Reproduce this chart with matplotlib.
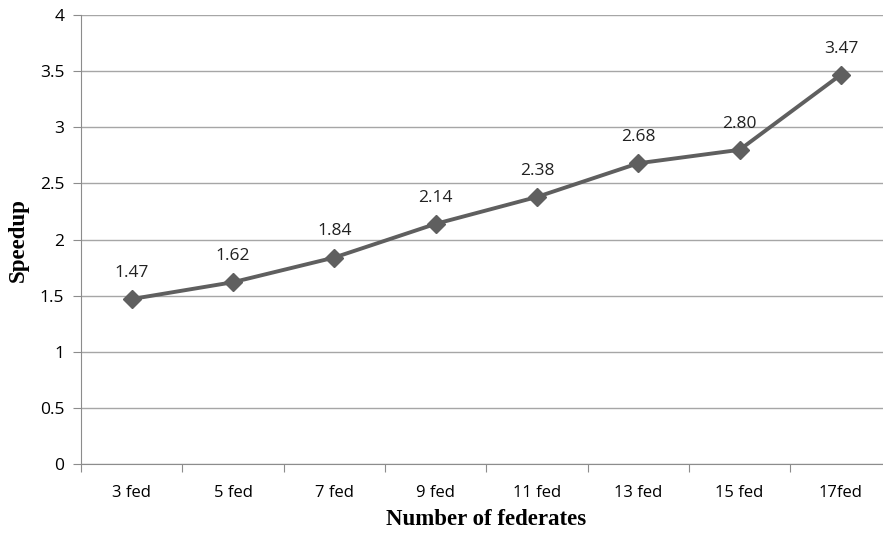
import matplotlib
matplotlib.use('Agg')
import matplotlib.pyplot as plt

categories = ['3 fed', '5 fed', '7 fed', '9 fed', '11 fed', '13 fed', '15 fed', '17fed']
speedup = [1.47, 1.62, 1.84, 2.14, 2.38, 2.68, 2.80, 3.47]
yticks = [0, 0.5, 1, 1.5, 2, 2.5, 3, 3.5, 4]

fig = plt.figure(figsize=(8.83, 5.33), dpi=100)
ax = fig.add_axes([0.0917, 0.1295, 0.918, 0.842])

x = list(range(len(categories)))
ax.plot(x, speedup, color='#5f5f5f', linewidth=2.8, marker='D',
        markersize=9.5, zorder=3)
for xi, v in zip(x, speedup):
    ax.annotate(f'{v:.2f}', (xi, v), xytext=(0, 13), textcoords='offset points',
                ha='center', va='bottom', fontsize=12.5, family='Open Sans',
                color='#222222')

ax.set_xlim(-0.5, len(categories) - 0.5)
ax.set_ylim(0, 4)
ax.set_yticks(yticks)
ax.set_yticklabels([f'{t:g}' for t in yticks], fontsize=12.5, family='Open Sans')
ax.set_xticks([i + 0.5 for i in range(-1, len(categories))], minor=False)
ax.set_xticklabels([])
ax.set_xticks(x, minor=True)
ax.set_xticklabels(categories, minor=True, fontsize=12, family='Open Sans')
ax.tick_params(axis='x', which='major', length=6, color='#8c8c8c')
ax.tick_params(axis='x', which='minor', length=0, pad=15)
ax.tick_params(axis='y', length=6, color='#8c8c8c', pad=6)

ax.grid(axis='y', color='#a6a6a6', linewidth=1)
ax.set_axisbelow(True)
for s in ['top', 'right']:
    ax.spines[s].set_visible(False)
ax.spines['left'].set_color('#8c8c8c')
ax.spines['bottom'].set_color('#8c8c8c')

ax.set_xlabel('Number of federates', fontsize=16.5, fontweight='bold',
              family='Liberation Serif', labelpad=6)
ax.set_ylabel('Speedup', fontsize=16.5, fontweight='bold',
              family='Liberation Serif', labelpad=8)

fig.savefig('out.png', dpi=100)
